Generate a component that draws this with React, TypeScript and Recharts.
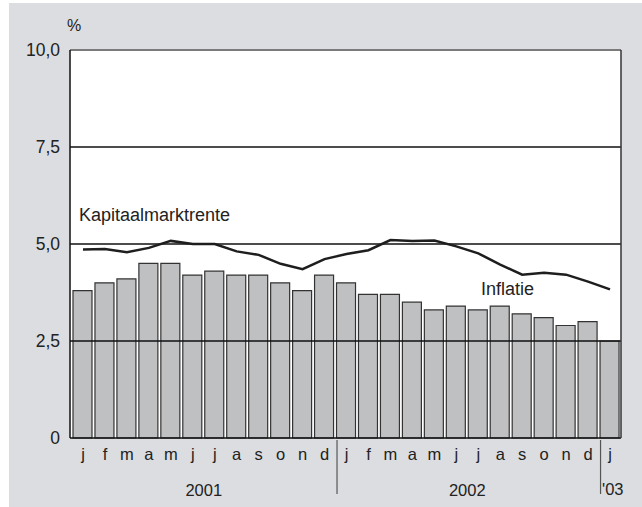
import { ComposedChart, Bar, Line, XAxis, YAxis, CartesianGrid, ReferenceLine } from 'recharts';

const months = ['j', 'f', 'm', 'a', 'm', 'j', 'j', 'a', 's', 'o', 'n', 'd', 'j', 'f', 'm', 'a', 'm', 'j', 'j', 'a', 's', 'o', 'n', 'd', 'j'];
const inflatie = [3.8, 4.0, 4.1, 4.5, 4.5, 4.2, 4.3, 4.2, 4.2, 4.0, 3.8, 4.2, 4.0, 3.7, 3.7, 3.5, 3.3, 3.4, 3.3, 3.4, 3.2, 3.1, 2.9, 3.0, 2.5];
const kapitaalmarktrente = [4.86, 4.87, 4.79, 4.9, 5.08, 5.0, 5.0, 4.81, 4.72, 4.49, 4.35, 4.61, 4.74, 4.84, 5.1, 5.08, 5.09, 4.94, 4.76, 4.47, 4.21, 4.26, 4.21, 4.03, 3.83];
const yTicks = [0, 2.5, 5, 7.5, 10];
const yearLabels = [
  { at: 5, text: '2001' },
  { at: 17, text: '2002' },
];
const dividers = [12, 24];

const data = months.map((m, i) => ({
  idx: i,
  month: m,
  inflatie: inflatie[i],
  rente: kapitaalmarktrente[i],
}));

const fmt = (v: number) => (v === 0 ? '0' : v.toFixed(1).replace('.', ','));
const font = '"Liberation Sans", Arial, sans-serif';
const ink = '#222';

function MonthTick(props: any) {
  const { x, y, payload } = props;
  const i = payload.index;
  const half = payload.offset || 11;
  return (
    <g>
      <text x={x} y={y + 22} textAnchor="middle" fontSize={16.5} fontFamily={font} fill={ink}>
        {months[i]}
      </text>
      {dividers.includes(i) && (
        <line x1={x - half + 1.5} x2={x - half + 1.5} y1={y + 2} y2={y + 56} stroke="#555" strokeWidth={1.2} />
      )}
      {yearLabels
        .filter((yl) => yl.at === i)
        .map((yl) => (
          <text key={yl.text} x={x + half} y={y + 58} textAnchor="middle" fontSize={16.5} fontFamily={font} fill={ink}>
            {yl.text}
          </text>
        ))}
      {i === 24 && (
        <text x={x - half + 3} y={y + 57} textAnchor="start" fontSize={16.5} fontFamily={font} fill={ink}>
          '03
        </text>
      )}
    </g>
  );
}

export default function App() {
  return (
    <div style={{ position: 'absolute', left: 0, top: 0, width: 642, height: 507 }}>
      <div style={{ position: 'absolute', left: 9, top: 3, width: 633, height: 504, background: '#dcdde0' }} />
      <div style={{ position: 'absolute', left: 0, top: 0 }}>
        <ComposedChart
          width={642}
          height={507}
          data={data}
          margin={{ top: 50, right: 0, left: 0, bottom: 0 }}
          barCategoryGap={0}
        >
          <CartesianGrid horizontal={false} vertical={false} fill="#fff" stroke="none" yAxisId="l" />
          <XAxis
            dataKey="idx"
            height={69}
            padding={{ left: 2, right: 0 }}
            tickSize={0}
            tickMargin={0}
            interval={0}
            axisLine={{ stroke: '#111', strokeWidth: 1.5 }}
            tick={<MonthTick />}
          />
          <YAxis
            yAxisId="l"
            width={70}
            domain={[0, 10]}
            ticks={yTicks}
            tickFormatter={fmt}
            tickSize={0}
            tickMargin={10}
            interval={0}
            axisLine={{ stroke: '#111', strokeWidth: 1.5 }}
            tick={{ fontSize: 17.5, fontFamily: font, fill: ink }}
          />
          <YAxis
            yAxisId="r"
            orientation="right"
            width={21}
            domain={[0, 10]}
            tick={false}
            tickSize={0}
            axisLine={{ stroke: '#333', strokeWidth: 1.5 }}
          />
          <Bar
            yAxisId="l"
            dataKey="inflatie"
            barSize={19}
            fill="#bfc0c2"
            stroke="#333"
            strokeWidth={1.2}
            isAnimationActive={false}
          />
          <ReferenceLine yAxisId="l" y={2.5} stroke="#111" strokeWidth={1.5} />
          <ReferenceLine yAxisId="l" y={5} stroke="#111" strokeWidth={1.5} />
          <ReferenceLine yAxisId="l" y={7.5} stroke="#111" strokeWidth={1.5} />
          <ReferenceLine yAxisId="l" y={10} stroke="#7a7a7a" strokeWidth={2} />
          <Line
            yAxisId="l"
            dataKey="rente"
            type="linear"
            stroke="#1e1e1e"
            strokeWidth={2.5}
            dot={false}
            isAnimationActive={false}
          />
        </ComposedChart>
      </div>
      <svg width={642} height={507} style={{ position: 'absolute', left: 0, top: 0, pointerEvents: 'none' }}>
        <text x={67} y={31} fontSize={16} fontFamily={font} fill={ink}>%</text>
        <text x={79} y={221} fontSize={18} fontFamily={font} fill={ink}>Kapitaalmarktrente</text>
        <text x={481} y={295} fontSize={18} fontFamily={font} fill={ink}>Inflatie</text>
      </svg>
    </div>
  );
}
